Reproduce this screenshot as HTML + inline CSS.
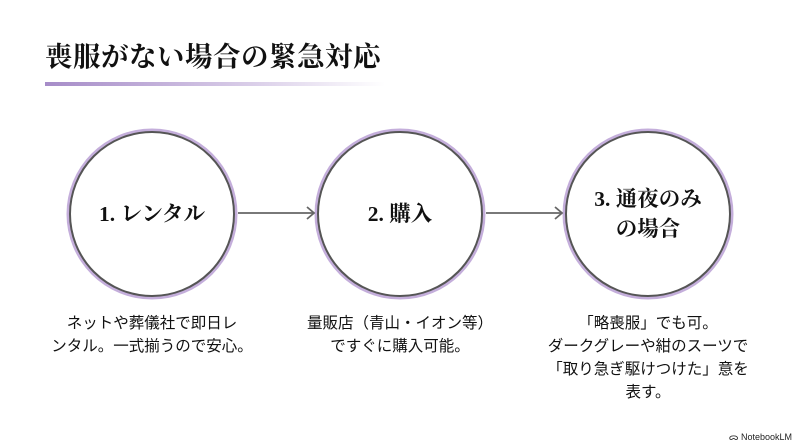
<!DOCTYPE html>
<html><head><meta charset="utf-8"><style>
html,body{margin:0;padding:0;background:#fff;}
body{width:800px;height:447px;position:relative;overflow:hidden;}
.t{position:absolute;left:45px;top:34px;font-family:"Liberation Serif","Noto Serif CJK SC",serif;font-weight:bold;font-size:27.5px;color:#111;letter-spacing:0.5px;}
.ul{position:absolute;left:45px;top:82px;width:340px;height:4px;background:linear-gradient(to right,#a68cc8,#d9cde8 60%,rgba(255,255,255,0));}
.c{position:absolute;width:162px;height:162px;border-radius:50%;border:2px solid #555;box-shadow:0 0 0 2.5px #c4aedb;background:#fff;display:flex;align-items:center;justify-content:center;text-align:center;font-family:"Liberation Serif","Noto Serif CJK SC",serif;font-weight:bold;font-size:21.5px;color:#111;line-height:30px;}
.d{position:absolute;width:260px;text-align:center;font-family:"Liberation Sans","Noto Sans CJK JP",sans-serif;font-size:15.5px;line-height:23px;color:#111;}
.f{position:absolute;right:8px;top:430px;font-family:"Liberation Sans",sans-serif;font-size:9px;color:#222;}
</style></head><body>
<div class="t">喪服がない場合の緊急対応</div>
<div class="ul"></div>
<div class="c" style="left:69px;top:131px;">1. レンタル</div>
<div class="c" style="left:317px;top:131px;">2. 購入</div>
<div class="c" style="left:565px;top:131px;">3. 通夜のみ<br>の場合</div>
<svg style="position:absolute;left:0;top:0" width="800" height="447">
<g stroke="#666" stroke-width="1.8" fill="none">
<line x1="238" y1="213" x2="314" y2="213"/><polyline points="307,207 314,213 307,219"/>
<line x1="486" y1="213" x2="562" y2="213"/><polyline points="555,207 562,213 555,219"/>
</g></svg>
<div class="d" style="left:22px;top:312px;">ネットや葬儀社で即日レ<br>ンタル。一式揃うので安心。</div>
<div class="d" style="left:270px;top:312px;">量販店（青山・イオン等）<br>ですぐに購入可能。</div>
<div class="d" style="left:518px;top:312px;">「略喪服」でも可。<br>ダークグレーや紺のスーツで<br>「取り急ぎ駆けつけた」意を<br>表す。</div>
<div class="f">ᯅ NotebookLM</div>
</body></html>
